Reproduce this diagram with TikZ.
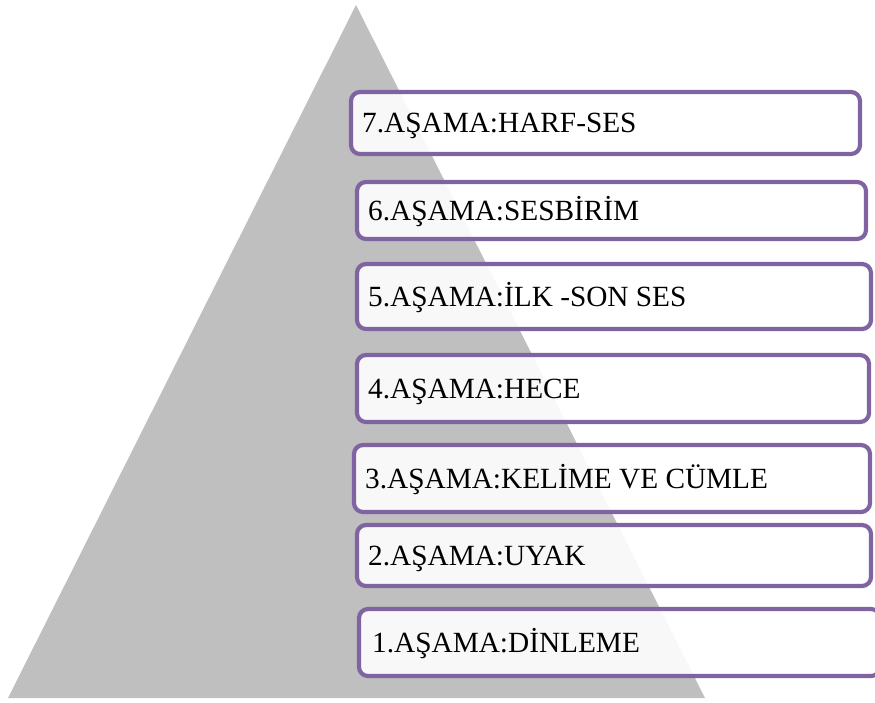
\documentclass[tikz,border=0pt]{standalone}
\usepackage{fontspec}
\setmainfont{Liberation Serif}
\definecolor{pyrgray}{RGB}{191,191,191}
\definecolor{stagepurple}{RGB}{128,100,162}
\tikzset{
  stagebox/.style={draw=stagepurple, line width=4.2pt, rounded corners=9pt,
    fill=white, fill opacity=0.9, draw opacity=1, inner sep=0pt, outer sep=0pt,
    anchor=north west},
  stagetext/.style={font=\fontsize{29.3}{35}\selectfont, text=black, inner sep=0pt,
    anchor=west, text height=19.4pt, text depth=0pt, xshift=11pt}
}
\begin{document}
\begin{tikzpicture}[x=1pt,y=-1pt]
\useasboundingbox (0,0) rectangle (875,702);
\fill[pyrgray] (356,5) -- (8,698) -- (705,698) -- cycle;
\node[stagebox, minimum width=509pt, minimum height=62pt] (b7) at (351,92) {};
\node[stagebox, minimum width=509pt, minimum height=57pt] (b6) at (357,182) {};
\node[stagebox, minimum width=514pt, minimum height=65pt] (b5) at (357,264) {};
\node[stagebox, minimum width=512pt, minimum height=67pt] (b4) at (357,355) {};
\node[stagebox, minimum width=516pt, minimum height=67pt] (b3) at (354,445) {};
\node[stagebox, minimum width=514pt, minimum height=61pt] (b2) at (357,525) {};
\node[stagebox, minimum width=521pt, minimum height=67pt] (b1) at (359,609) {};
\node[stagetext] (t7) at (b7.west) {7.AŞAMA:HARF-SES};
\node[stagetext] (t6) at (b6.west) {6.AŞAMA:SESBİRİM};
\node[stagetext] (t5) at (b5.west) {5.AŞAMA:İLK -SON SES};
\node[stagetext] (t4) at (b4.west) {4.AŞAMA:HECE};
\node[stagetext] (t3) at (b3.west) {3.AŞAMA:KELİME VE CÜMLE};
\node[stagetext] (t2) at (b2.west) {2.AŞAMA:UYAK};
\node[stagetext, xshift=2pt] (t1) at (b1.west) {1.AŞAMA:DİNLEME};
\end{tikzpicture}
\end{document}
